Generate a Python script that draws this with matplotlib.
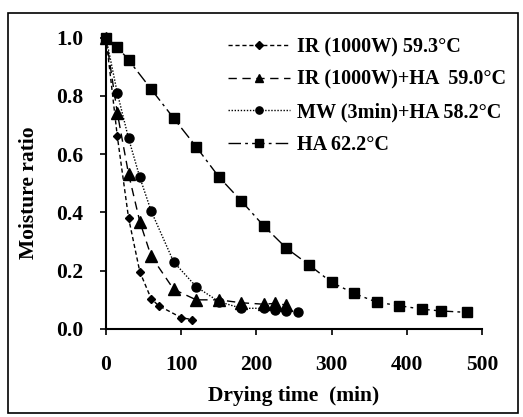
import matplotlib
matplotlib.use("Agg")
import matplotlib.pyplot as plt
from matplotlib.patches import Rectangle

plt.rcParams['font.family'] = ['Liberation Serif', 'DejaVu Serif']
plt.rcParams['font.weight'] = 'bold'

# Drying curves
t_ir = [0, 15, 30, 45, 60, 70, 100, 115]
mr_ir = [1.0, 0.662, 0.381, 0.196, 0.104, 0.080, 0.039, 0.032]

t_irha = [0, 15, 30, 45, 60, 90, 120, 150, 180, 210, 225, 240]
mr_irha = [1.0, 0.742, 0.532, 0.368, 0.250, 0.136, 0.100, 0.100, 0.090, 0.085, 0.088, 0.082]

t_mwha = [0, 15, 30, 45, 60, 90, 120, 150, 180, 210, 225, 240, 255]
mr_mwha = [1.0, 0.810, 0.654, 0.520, 0.405, 0.230, 0.145, 0.094, 0.071, 0.071, 0.065, 0.063, 0.059]

t_ha = [0, 15, 30, 60, 90, 120, 150, 180, 210, 240, 270, 300, 330, 360, 390, 420, 445, 480]
mr_ha = [1.0, 0.968, 0.923, 0.823, 0.723, 0.625, 0.522, 0.439, 0.353, 0.277, 0.220,
         0.160, 0.122, 0.092, 0.080, 0.068, 0.062, 0.057]

labels = ["IR (1000W) 59.3\u00b0C", "IR (1000W)+HA  59.0\u00b0C",
          "MW (3min)+HA 58.2\u00b0C", "HA 62.2\u00b0C"]

fig = plt.figure(figsize=(5.23, 4.17), dpi=100)
ax = fig.add_axes([106 / 523, 1 - 329 / 417, 376 / 523, 291.5 / 417])

ax.plot(t_ir, mr_ir, color='k', lw=1.0, ls=(0, (3, 2)), marker='D', ms=4.5, label=labels[0])
ax.plot(t_irha, mr_irha, color='k', lw=1.0, ls=(0, (6, 4)), marker='^', ms=8, label=labels[1])
ax.plot(t_mwha, mr_mwha, color='k', lw=1.0, ls=(0, (1, 1.2)), marker='o', ms=6.5, label=labels[2])
ax.plot(t_ha, mr_ha, color='k', lw=1.0, ls=(0, (9, 3, 2, 3)), marker='s', ms=6.5, label=labels[3])

ax.set_xlim(0, 500)
ax.set_ylim(0, 1.0)
ax.set_xticks([0, 100, 200, 300, 400, 500])
ax.set_yticks([0.0, 0.2, 0.4, 0.6, 0.8, 1.0])
ax.set_yticklabels(["0.0", "0.2", "0.4", "0.6", "0.8", "1.0"])
ax.spines['top'].set_visible(False)
ax.spines['right'].set_visible(False)
for s in ['left', 'bottom']:
    ax.spines[s].set_linewidth(1.5)
ax.tick_params(direction='out', length=4.5, width=1.2, labelsize=15.5)
ax.tick_params(axis='y', pad=12)
ax.tick_params(axis='x', pad=14)
for ln in ax.lines:
    ln.set_clip_on(False)

ax.set_xlabel("Drying time  (min)", fontsize=15.5, fontweight='bold')
ax.set_ylabel("Moisture ratio", fontsize=15.5, fontweight='bold')
ax.xaxis.set_label_coords(0.5, -57 / 291.5)
ax.yaxis.set_label_coords(-67 / 376, 0.467)

ax.legend(loc='upper left', bbox_to_anchor=(228 / 523, 1 - 37 / 417),
          bbox_transform=fig.transFigure, frameon=False, fontsize=14.5,
          handlelength=3.1, handletextpad=0.35, labelspacing=0.63,
          borderpad=0, borderaxespad=0, markerscale=0.8)

# outer frame
fig.patches.append(Rectangle((8 / 523, 1 - 413 / 417), 510 / 523, 400 / 417,
                             transform=fig.transFigure, fill=False,
                             edgecolor='k', lw=1.2))

fig.savefig("out.png", dpi=100)
